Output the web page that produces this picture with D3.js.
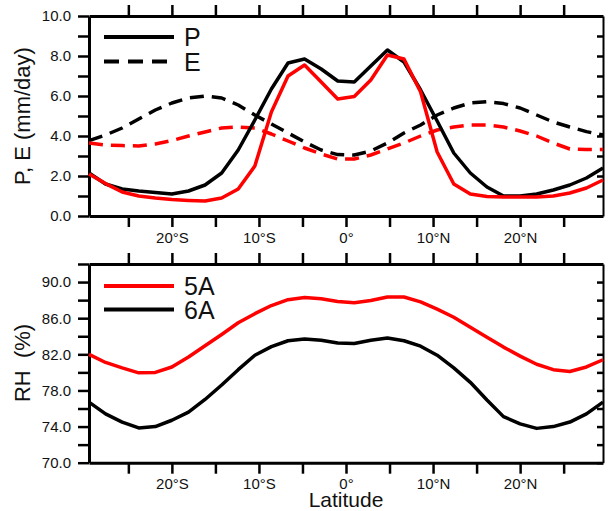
<!DOCTYPE html>
<html><head><meta charset="utf-8">
<script src="https://cdn.jsdelivr.net/npm/d3@7"></script>
<style>
html,body{margin:0;padding:0;background:#fff;}
svg{display:block;}
text{font-family:"Liberation Sans",Arial,sans-serif;}
</style></head>
<body>
<svg id="c" width="608" height="511"></svg>
<script>
// Latitudes (Gaussian grid)
const lats = [-29.52,-27.62,-25.71,-23.81,-21.90,-20.00,-18.09,-16.19,-14.28,-12.38,-10.47,-8.57,-6.66,-4.76,-2.85,-0.95,0.95,2.85,4.76,6.66,8.57,10.47,12.38,14.28,16.19,18.09,20.00,21.90,23.81,25.71,27.62,29.52];
// Precipitation (mm/day)
const P_6A = [2.15,1.6,1.35,1.25,1.17,1.1,1.25,1.55,2.15,3.3,4.8,6.35,7.65,7.85,7.35,6.75,6.7,7.5,8.3,7.7,6.3,4.75,3.15,2.15,1.45,1.0,1.0,1.1,1.3,1.55,1.9,2.4];
const P_5A = [2.1,1.62,1.2,1.0,0.9,0.82,0.78,0.75,0.9,1.35,2.5,5.2,7.0,7.55,6.7,5.85,5.97,6.8,8.05,7.85,6.2,3.2,1.6,1.1,0.97,0.95,0.95,0.95,1.0,1.15,1.4,1.8];
// Evaporation (mm/day)
const E_6A = [3.77,4.05,4.4,4.85,5.3,5.65,5.9,6.0,5.9,5.55,5.05,4.6,4.15,3.7,3.3,3.07,3.05,3.25,3.65,4.15,4.55,5.05,5.4,5.65,5.72,5.62,5.4,5.05,4.7,4.45,4.22,4.05];
const E_5A = [3.65,3.55,3.52,3.5,3.6,3.77,4.0,4.2,4.4,4.45,4.4,4.1,3.75,3.4,3.1,2.85,2.85,3.05,3.35,3.65,4.0,4.3,4.45,4.55,4.55,4.45,4.25,4.0,3.65,3.35,3.32,3.33];
// Relative humidity (%)
const RH_5A = [82.0,81.1,80.5,79.95,80.0,80.6,81.7,82.95,84.2,85.5,86.5,87.4,88.05,88.3,88.15,87.85,87.7,87.95,88.35,88.35,87.8,87.0,86.1,85.0,83.9,82.8,81.8,80.9,80.3,80.1,80.6,81.4];
const RH_6A = [76.7,75.4,74.5,73.85,74.0,74.7,75.6,77.0,78.6,80.3,81.9,82.85,83.5,83.7,83.55,83.25,83.2,83.55,83.8,83.5,82.9,81.9,80.5,78.9,76.95,75.1,74.3,73.8,74.0,74.5,75.4,76.7];
// Ticks
const xTicks = [-25,-20,-15,-10,-5,0,5,10,15,20,25];
const yTicksTop = [0,1,2,3,4,5,6,7,8,9,10];
const yTicksBot = [70,72,74,76,78,80,82,84,86,88,90,92];

const svg = d3.select("#c");
const L = 89, R = 603;
const x = d3.scaleLinear().domain([-29.52, 29.52]).range([L, R]);
const latFmt = d => d === 0 ? "0°" : (d < 0 ? (-d) + "°S" : d + "°N");
const FONT = '"Liberation Sans",Arial,sans-serif';

function styleAxis(g, domainW) {
  g.attr("font-family", FONT).attr("font-size", 15);
  g.select(".domain").attr("stroke", "#000").attr("stroke-width", domainW);
  g.selectAll(".tick line").attr("stroke", "#000").attr("stroke-width", 2.5);
  g.selectAll(".tick text").attr("fill", "#111");
}

function panel(top, bottom, ydom, yTicks, yLabelFn, series, ylabel, ylabelY, legend, legendY) {
  const y = d3.scaleLinear().domain(ydom).range([bottom, top]);
  // axes
  styleAxis(svg.append("g").attr("transform", `translate(0,${top})`)
    .call(d3.axisTop(x).tickValues(xTicks).tickSize(11).tickSizeOuter(0).tickFormat("")), 3);
  styleAxis(svg.append("g").attr("transform", `translate(0,${bottom})`)
    .call(d3.axisBottom(x).tickValues(xTicks).tickSize(11).tickSizeOuter(0).tickPadding(5)
      .tickFormat(d => d % 10 === 0 ? latFmt(d) : "")), 3);
  styleAxis(svg.append("g").attr("transform", `translate(${R},0)`)
    .call(d3.axisLeft(y).tickValues(yTicks).tickSize(6).tickSizeOuter(0).tickFormat("")), 2);
  styleAxis(svg.append("g").attr("transform", `translate(${L},0)`)
    .call(d3.axisLeft(y).tickValues(yTicks).tickSize(11).tickSizeOuter(0).tickPadding(7).tickFormat(yLabelFn)), 3);

  const line = d3.line().x((d, i) => x(lats[i])).y(d => y(d));
  series.forEach(s => {
    svg.append("path").attr("d", line(s.values)).attr("fill", "none")
      .attr("stroke", s.color).attr("stroke-width", 3.5)
      .attr("stroke-dasharray", s.dash || null)
      .attr("stroke-linejoin", "round");
  });
  svg.append("text").attr("transform", `translate(30,${ylabelY}) rotate(-90)`)
    .attr("text-anchor", "middle").attr("font-size", 22).attr("fill", "#111")
    .style("white-space", "pre").text(ylabel);
  legend.forEach((lg, i) => {
    const ly = legendY[i];
    svg.append("line").attr("x1", 104).attr("x2", 174).attr("y1", ly).attr("y2", ly)
      .attr("stroke", lg.color).attr("stroke-width", 4).attr("stroke-dasharray", lg.dash || null);
    svg.append("text").attr("x", 184).attr("y", ly + 9).attr("font-size", 25).attr("fill", "#111").text(lg.name);
  });
  return y;
}

panel(16, 216, [0, 10], yTicksTop, d => d % 2 === 0 ? d.toFixed(1) : "",
  [{values: E_6A, color: "#000", dash: "14,8"}, {values: E_5A, color: "#ff0000", dash: "14,8"},
   {values: P_6A, color: "#000"}, {values: P_5A, color: "#ff0000"}],
  "P, E (mm/day)", 116,
  [{name: "P", color: "#000"}, {name: "E", color: "#000", dash: "15,9"}], [37, 61.5]);

panel(264, 462.7, [70, 92], yTicksBot, d => (d - 70) % 4 === 0 ? d.toFixed(1) : "",
  [{values: RH_6A, color: "#000"}, {values: RH_5A, color: "#ff0000"}],
  "RH  (%)", 363,
  [{name: "5A", color: "#ff0000"}, {name: "6A", color: "#000"}], [286, 309.5]);

svg.append("text").attr("x", 346).attr("y", 507).attr("text-anchor", "middle")
  .attr("font-size", 21).attr("fill", "#111").text("Latitude");
</script>
</body></html>
